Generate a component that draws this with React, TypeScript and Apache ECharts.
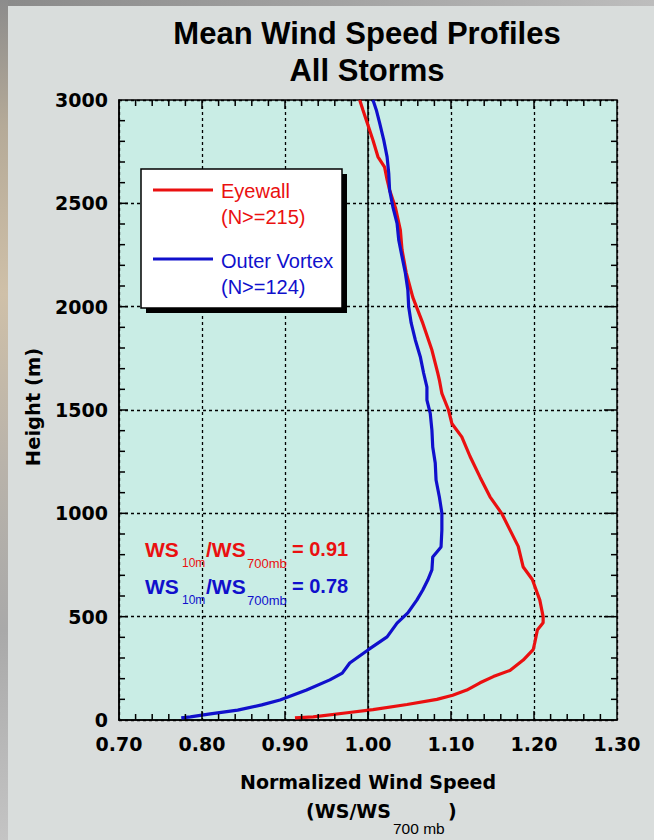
import React, { useEffect, useRef } from "react";
import * as echarts from "echarts";

// Eyewall profile: height (m) and normalized wind speed (WS/WS700mb)
const eyewallHeight = [10, 15, 35, 50, 75, 100, 120, 145, 180, 210, 240, 290, 340, 375, 435, 470, 500, 580, 680, 740, 840, 920, 1000, 1080, 1175, 1275, 1370, 1435, 1500, 1580, 1645, 1680, 1790, 1920, 2045, 2165, 2275, 2370, 2480, 2565, 2615, 2675, 2725, 2805, 2890, 2950, 3000];
const eyewallSpeed = [0.912, 0.934, 0.975, 1.006, 1.047, 1.083, 1.102, 1.119, 1.135, 1.151, 1.171, 1.187, 1.199, 1.201, 1.204, 1.211, 1.211, 1.207, 1.198, 1.187, 1.181, 1.171, 1.161, 1.147, 1.135, 1.123, 1.113, 1.101, 1.097, 1.089, 1.086, 1.084, 1.077, 1.066, 1.054, 1.046, 1.041, 1.039, 1.033, 1.026, 1.023, 1.02, 1.012, 1.006, 0.999, 0.994, 0.99];

// Outer vortex profile
const outerHeight = [10, 15, 30, 48, 73, 97, 145, 194, 227, 276, 339, 402, 469, 518, 581, 629, 677, 726, 789, 837, 919, 1002, 1079, 1161, 1244, 1321, 1403, 1484, 1548, 1611, 1679, 1758, 1839, 1921, 2000, 2081, 2163, 2242, 2323, 2403, 2482, 2565, 2645, 2725, 2806, 2889, 2952, 3000];
const outerSpeed = [0.775, 0.786, 0.81, 0.843, 0.872, 0.894, 0.926, 0.954, 0.969, 0.978, 1.0, 1.023, 1.035, 1.048, 1.059, 1.066, 1.072, 1.077, 1.078, 1.088, 1.089, 1.089, 1.086, 1.082, 1.081, 1.078, 1.077, 1.075, 1.071, 1.071, 1.067, 1.063, 1.057, 1.052, 1.049, 1.048, 1.045, 1.041, 1.037, 1.035, 1.03, 1.026, 1.025, 1.023, 1.019, 1.014, 1.01, 1.006];

const xTicks = { min: 0.7, max: 1.3, step: 0.1, minorPerStep: 5 };
const yTicks = { min: 0, max: 3000, step: 500, minorPerStep: 5 };

const eyewallRatio = "0.91";
const outerRatio = "0.78";

const RED = "#ea1010";
const BLUE = "#1010cc";
const SANS = "'Liberation Sans', Arial, Helvetica, sans-serif";
const WIDE = "'DejaVu Sans', Verdana, sans-serif";

const PLOT = { left: 119, top: 100, width: 498, height: 620 };

const pairs = (xs: number[], hs: number[]) => hs.map((h, i) => [xs[i], h]);

export default function App() {
  const ref = useRef<HTMLDivElement>(null);

  useEffect(() => {
    if (!ref.current) return;
    const chart = echarts.init(ref.current, null, { renderer: "svg" });

    const tickLabel = { color: "#000", fontFamily: WIDE, fontWeight: "bold" as const, fontSize: 19 };
    const gridLine = { show: true, lineStyle: { color: "#000", type: [3, 3] as any, width: 1.3 } };
    const axisLine = { show: true, onZero: false, lineStyle: { color: "#000", width: 1.5 } };

    const text = (x: number, y: number, t: string, style: any, extra: any = {}) => ({
      type: "text",
      x,
      y,
      z: 20,
      ...extra,
      style: { text: t, fontFamily: SANS, fill: "#000", textVerticalAlign: "middle", ...style },
    });

    chart.setOption({
      animation: false,
      backgroundColor: "transparent",
      grid: {
        ...PLOT,
        show: true,
        backgroundColor: "#c9ede5",
        borderColor: "#000",
        borderWidth: 1.5,
      },
      xAxis: {
        type: "value",
        min: xTicks.min,
        max: xTicks.max,
        interval: xTicks.step,
        position: "bottom",
        axisLine,
        axisTick: { show: false },
        axisLabel: { ...tickLabel, margin: 14, formatter: (v: number) => v.toFixed(2) },
        splitLine: gridLine,
      },
      yAxis: {
        type: "value",
        min: yTicks.min,
        max: yTicks.max,
        interval: yTicks.step,
        position: "left",
        axisLine,
        axisTick: { show: false },
        axisLabel: { ...tickLabel, margin: 11, formatter: (v: number) => String(v) },
        splitLine: gridLine,
      },
      series: [
        {
          name: "frame",
          type: "line",
          data: [],
          z: 6,
          silent: true,
          markLine: {
            silent: true,
            symbol: ["none", "none"],
            label: { show: false },
            lineStyle: { color: "#000", type: "solid", width: 1.5 },
            data: [{ xAxis: 1.0 }],
          },
        },
        {
          name: "Eyewall",
          type: "line",
          data: pairs(eyewallSpeed, eyewallHeight),
          showSymbol: false,
          z: 10,
          lineStyle: { color: RED, width: 3.2 },
        },
        {
          name: "Outer Vortex",
          type: "line",
          data: pairs(outerSpeed, outerHeight),
          showSymbol: false,
          z: 11,
          lineStyle: { color: BLUE, width: 3.2 },
        },
      ],
    });

    // Inward frame ticks, placed through the chart's own axis scales
    const toPx = (x: number, y: number) => chart.convertToPixel({ gridIndex: 0 }, [x, y]) as number[];
    const tickLines: any[] = [];
    const seg = (p: number[], dx: number, dy: number) => ({
      type: "line",
      z: 15,
      silent: true,
      shape: { x1: p[0], y1: p[1], x2: p[0] + dx, y2: p[1] + dy },
      style: { stroke: "#000", lineWidth: 1.5 },
    });
    const nx = Math.round((xTicks.max - xTicks.min) / xTicks.step) * xTicks.minorPerStep;
    for (let k = 1; k < nx; k++) {
      const v = xTicks.min + (k * xTicks.step) / xTicks.minorPerStep;
      const len = k % xTicks.minorPerStep === 0 ? 9 : 6;
      tickLines.push(seg(toPx(v, yTicks.min), 0, -len));
      tickLines.push(seg(toPx(v, yTicks.max), 0, len));
    }
    const ny = Math.round((yTicks.max - yTicks.min) / yTicks.step) * yTicks.minorPerStep;
    for (let k = 1; k < ny; k++) {
      const v = yTicks.min + (k * yTicks.step) / yTicks.minorPerStep;
      const major = k % yTicks.minorPerStep === 0;
      tickLines.push(seg(toPx(xTicks.min, v), major ? 9 : 6, 0));
      tickLines.push(seg(toPx(xTicks.max, v), major ? -13 : -6, 0));
    }

    chart.setOption({
      graphic: [
        ...tickLines,
        // title
        text(367, 33, "Mean Wind Speed Profiles", { fontSize: 31, fontWeight: "bold", textAlign: "center" }),
        text(367, 70, "All Storms", { fontSize: 31, fontWeight: "bold", textAlign: "center" }),
        // axis names
        text(33, 407, "Height (m)", { fontFamily: WIDE, fontSize: 19.5, fontWeight: "bold", textAlign: "center" }, { rotation: Math.PI / 2 }),
        text(368, 782, "Normalized Wind Speed", { fontFamily: WIDE, fontSize: 19, fontWeight: "bold", textAlign: "center" }),
        text(391, 811, "(WS/WS", { fontFamily: WIDE, fontSize: 19, fontWeight: "bold", textAlign: "right" }),
        text(393, 828, "700 mb", { fontSize: 15.5, textAlign: "left" }),
        text(448, 811, ")", { fontFamily: WIDE, fontSize: 19, fontWeight: "bold", textAlign: "left" }),
        // legend box
        { type: "rect", z: 20, shape: { x: 146, y: 174, width: 201, height: 139 }, style: { fill: "#000" } },
        { type: "rect", z: 20, shape: { x: 141, y: 169, width: 201, height: 139 }, style: { fill: "#fff", stroke: "#000", lineWidth: 1.5 } },
        { type: "line", z: 20, shape: { x1: 153, y1: 190, x2: 213, y2: 190 }, style: { stroke: RED, lineWidth: 3.2 } },
        text(221, 191, "Eyewall", { fontSize: 20, fill: RED }),
        text(221, 217, "(N>=215)", { fontSize: 20, fill: RED }),
        { type: "line", z: 20, shape: { x1: 153, y1: 259, x2: 213, y2: 259 }, style: { stroke: BLUE, lineWidth: 3.2 } },
        text(221, 261, "Outer Vortex", { fontSize: 20, fill: BLUE }),
        text(221, 287, "(N>=124)", { fontSize: 20, fill: BLUE }),
        // surface-to-700 mb ratios
        text(145, 549, "WS", { fontSize: 21, fontWeight: "bold", fill: RED }),
        text(182, 563, "10m", { fontSize: 12, fill: RED }),
        text(206, 549, "/WS", { fontSize: 21, fontWeight: "bold", fill: RED }),
        text(247, 563, "700mb", { fontSize: 13, fill: RED }),
        text(292, 549, "= " + eyewallRatio, { fontSize: 20, fontWeight: "bold", fill: RED }),
        text(145, 586, "WS", { fontSize: 21, fontWeight: "bold", fill: BLUE }),
        text(182, 600, "10m", { fontSize: 12, fill: BLUE }),
        text(206, 586, "/WS", { fontSize: 21, fontWeight: "bold", fill: BLUE }),
        text(247, 600, "700mb", { fontSize: 13, fill: BLUE }),
        text(292, 586, "= " + outerRatio, { fontSize: 20, fontWeight: "bold", fill: BLUE }),
      ],
    });

    return () => chart.dispose();
  }, []);

  return (
    <div style={{ position: "absolute", left: 0, top: 0, width: 654, height: 840, overflow: "hidden", background: "linear-gradient(90deg, #8a8a8a, #a2a2a2 50%, #bdbdbd)" }}>
      <div style={{ position: "absolute", left: 0, top: 0, width: 8, height: 840, background: "linear-gradient(180deg, #8c8c8c 0%, #b5aa98 15%, #cfc0a8 35%, #b9b3aa 55%, #a9a9a9 75%, #c4c4c4 100%)" }} />
      <div style={{ position: "absolute", left: 8, top: 6, width: 646, height: 834, background: "#d9dddc" }} />
      <div ref={ref} style={{ position: "absolute", left: 0, top: 0, width: 654, height: 840 }} />
    </div>
  );
}
